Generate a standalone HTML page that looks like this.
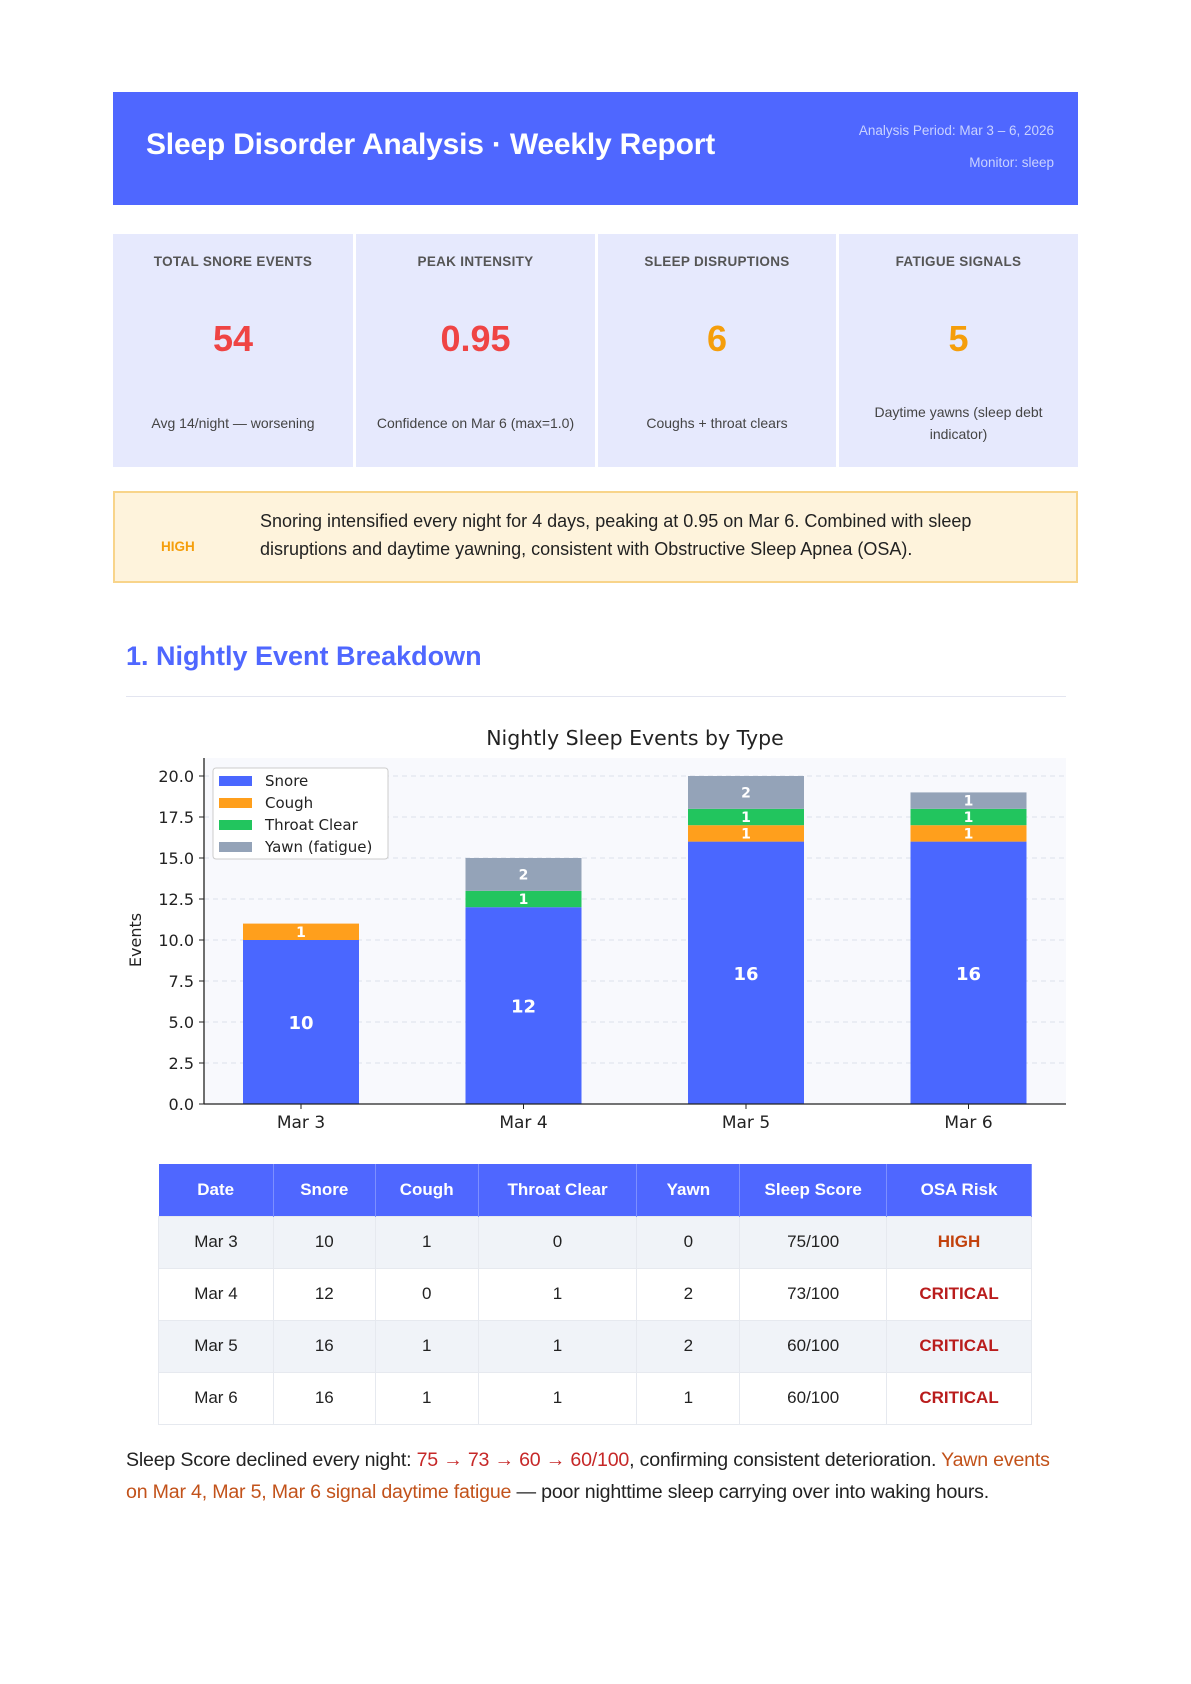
<!DOCTYPE html>
<html><head><meta charset="utf-8"><style>
*{margin:0;padding:0;box-sizing:border-box}
body{width:1191px;height:1684px;background:#fff;font-family:"Liberation Sans",sans-serif;position:relative;overflow:hidden;color:#222}
.abs{position:absolute}
.header{left:113px;top:92px;width:965px;height:113px;background:#4f67ff}
.title{left:33px;top:36px;color:#fff;font-size:30px;font-weight:bold;letter-spacing:-0.2px}
.meta{right:24px;color:#c9d2ff;font-size:13.5px;text-align:right}
.card{top:234px;height:233px;background:#e6e9fd;text-align:center}
.card .lbl{position:absolute;top:20px;width:100%;font-size:13.5px;font-weight:bold;color:#555;letter-spacing:0.3px}
.card .val{position:absolute;top:84px;width:100%;font-size:36px;font-weight:bold}
.card .sub{position:absolute;width:100%;font-size:14px;color:#444;line-height:22px;padding:0 20px}
.alert{left:113px;top:491px;width:965px;height:92px;background:#fef3dc;border:2px solid #f8d48a}
table{position:absolute;left:158px;top:1164px;width:874px;border-collapse:collapse;font-size:17px}
th{background:#4f67ff;color:#fff;height:52px;font-weight:bold;border-right:1px solid #7d8fff}
td{height:52px;text-align:center;border:1px solid #e6e9ef;color:#222}
tr.alt td{background:#f0f3f8}
.foot{left:126px;top:1444px;font-size:19.6px;line-height:32px;white-space:nowrap;letter-spacing:-0.2px;color:#222}
</style></head><body>
<div class="abs header">
 <div class="abs title">Sleep Disorder Analysis · Weekly Report</div>
 <div class="abs meta" style="top:31px">Analysis Period: Mar 3 – 6, 2026</div>
 <div class="abs meta" style="top:63px">Monitor: sleep</div>
</div>

<div class="abs card" style="left:113px;width:240px">
 <div class="lbl">TOTAL SNORE EVENTS</div><div class="val" style="color:#ef4444">54</div><div class="sub" style="top:178px">Avg 14/night — worsening</div></div>
<div class="abs card" style="left:356px;width:239px">
 <div class="lbl">PEAK INTENSITY</div><div class="val" style="color:#ef4444">0.95</div><div class="sub" style="top:178px">Confidence on Mar 6 (max=1.0)</div></div>
<div class="abs card" style="left:598px;width:238px">
 <div class="lbl">SLEEP DISRUPTIONS</div><div class="val" style="color:#f59e0b">6</div><div class="sub" style="top:178px">Coughs + throat clears</div></div>
<div class="abs card" style="left:839px;width:239px">
 <div class="lbl">FATIGUE SIGNALS</div><div class="val" style="color:#f59e0b">5</div><div class="sub" style="top:167px">Daytime yawns (sleep debt indicator)</div></div>

<div class="abs alert">
 <div class="abs" style="left:46px;top:46px;font-size:13.5px;font-weight:bold;color:#f59e0b">HIGH</div>
 <div class="abs" style="left:145px;top:14px;font-size:18px;line-height:28px;width:740px;color:#222">Snoring intensified every night for 4 days, peaking at 0.95 on Mar 6. Combined with sleep disruptions and daytime yawning, consistent with Obstructive Sleep Apnea (OSA).</div>
</div>

<div class="abs" style="left:126px;top:641px;font-size:27px;font-weight:bold;color:#4f67ff">1. Nightly Event Breakdown</div>
<div class="abs" style="left:126px;top:696px;width:940px;height:1px;background:#e3e5f0"></div>

<svg class="abs" style="left:0;top:720px" width="1191" height="430" id="chart"></svg>

<table>
<tr><th style="width:115px">Date</th><th style="width:102px">Snore</th><th style="width:103px">Cough</th><th style="width:159px">Throat Clear</th><th style="width:103px">Yawn</th><th style="width:147px">Sleep Score</th><th style="width:145px">OSA Risk</th></tr>
<tr class="alt"><td>Mar 3</td><td>10</td><td>1</td><td>0</td><td>0</td><td>75/100</td><td style="color:#c2410c;font-weight:bold">HIGH</td></tr>
<tr><td>Mar 4</td><td>12</td><td>0</td><td>1</td><td>2</td><td>73/100</td><td style="color:#b91c1c;font-weight:bold">CRITICAL</td></tr>
<tr class="alt"><td>Mar 5</td><td>16</td><td>1</td><td>1</td><td>2</td><td>60/100</td><td style="color:#b91c1c;font-weight:bold">CRITICAL</td></tr>
<tr><td>Mar 6</td><td>16</td><td>1</td><td>1</td><td>1</td><td>60/100</td><td style="color:#b91c1c;font-weight:bold">CRITICAL</td></tr>
</table>

<div class="abs foot">Sleep Score declined every night: <span style="color:#c62828">75 → 73 → 60 → 60/100</span>, confirming consistent deterioration. <span style="color:#c2521a">Yawn events</span><br><span style="color:#c2521a">on Mar 4, Mar 5, Mar 6 signal daytime fatigue</span> — poor nighttime sleep carrying over into waking hours.</div>

<script>
const categories=["Mar 3","Mar 4","Mar 5","Mar 6"];
const snore=[10,12,16,16];
const cough=[1,0,1,1];
const throatClear=[0,1,1,1];
const yawn=[0,2,2,1];
const yTicks=[0,2.5,5,7.5,10,12.5,15,17.5,20];
const seriesNames=["Snore","Cough","Throat Clear","Yawn (fatigue)"];

const svg=document.getElementById('chart');
const NS='http://www.w3.org/2000/svg';
const OY=720;
const X0=204,X1=1066,Y0=1104-OY,PX=16.4;
function y(v){return Y0-v*PX;}
function xc(i){return 301+i*222.5;}
function mk(t,a,txt){const e=document.createElementNS(NS,t);for(const k in a)e.setAttribute(k,a[k]);if(txt!==undefined)e.textContent=txt;svg.appendChild(e);return e;}
const F='DejaVu Sans, sans-serif';
let e;
e=mk('rect',{x:X0,y:y(21.1),width:X1-X0,height:Y0-y(21.1),fill:'#f8f9fd'});

e=mk('text',{x:(X0+X1)/2,y:y(21.1)-13,'text-anchor':'middle','font-family':F,'font-size':20.5,fill:'#222'},'Nightly Sleep Events by Type');

yTicks.forEach(t=>{
 if(t>0){e=mk('line',{x1:X0,x2:X1,y1:y(t),y2:y(t),stroke:'#dde1ea','stroke-dasharray':'5,4'});
 }
 mk('line',{x1:X0-5,x2:X0,y1:y(t),y2:y(t),stroke:'#222'});
 e=mk('text',{x:X0-10,y:y(t)+6,'text-anchor':'end','font-family':F,'font-size':16,fill:'#222'},t.toFixed(1));
 
});
const colors=['#4a67ff','#ff9f1c','#22c55e','#94a3b8'];
const series=[snore,cough,throatClear,yawn];
categories.forEach((c,i)=>{
 let base=0;
 series.forEach((s,k)=>{
  const v=s[i]; if(!v) return;
  e=mk('rect',{x:xc(i)-58,y:y(base+v),width:116,height:v*PX,fill:colors[k]});
  
  
  const big=v*PX>40;
  e=mk('text',{x:xc(i),y:y(base+v/2)+(big?7:5),'text-anchor':'middle','font-family':F,'font-weight':'bold','font-size':big?18:14,fill:'#fff'},v);
  
  base+=v;
 });
 mk('line',{x1:xc(i),x2:xc(i),y1:Y0,y2:Y0+5,stroke:'#222'});
 e=mk('text',{x:xc(i),y:Y0+24,'text-anchor':'middle','font-family':F,'font-size':17,fill:'#222'},c);
 
});
mk('line',{x1:X0,x2:X0,y1:y(21.1),y2:Y0,stroke:'#222','stroke-width':1.3});
mk('line',{x1:X0,x2:X1,y1:Y0,y2:Y0,stroke:'#222','stroke-width':1.3});
e=mk('text',{x:0,y:0,transform:`translate(141,${y(10)}) rotate(-90)`,'text-anchor':'middle','font-family':F,'font-size':16,fill:'#222'},'Events');

e=mk('rect',{x:213,y:768-OY,width:175,height:91,fill:'#fff',stroke:'#ccc',rx:3});

seriesNames.forEach((n,k)=>{
 const yy=780-OY+k*22;
 mk('rect',{x:219,y:yy-4,width:33,height:10,fill:colors[k]});
 e=mk('text',{x:265,y:yy+6,'font-family':F,'font-size':15,fill:'#222'},n);
 
});
</script>
</body></html>
